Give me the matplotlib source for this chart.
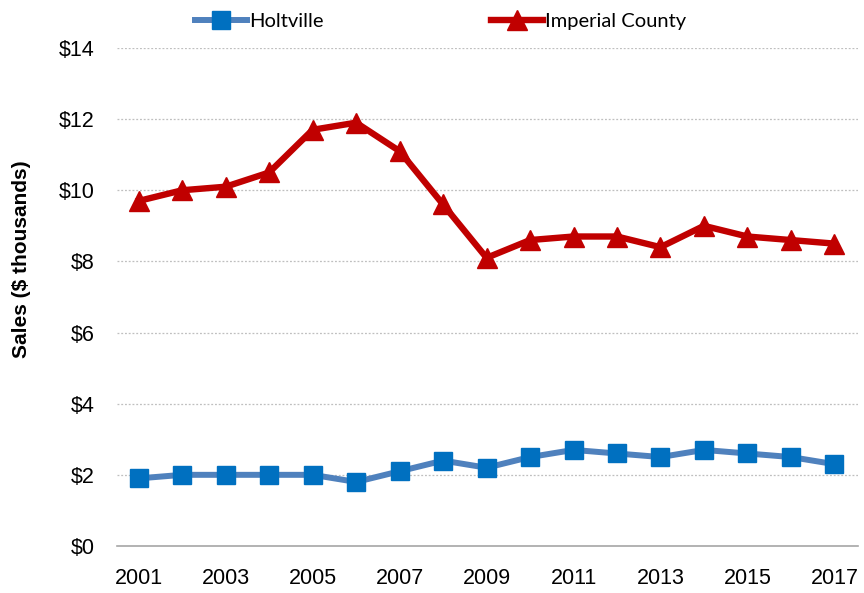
import matplotlib
matplotlib.use('Agg')
import matplotlib.pyplot as plt
from matplotlib.ticker import FuncFormatter

years = list(range(2001, 2018))
holtville = [1.9, 2.0, 2.0, 2.0, 2.0, 1.8, 2.1, 2.4, 2.2, 2.5, 2.7, 2.6, 2.5, 2.7, 2.6, 2.5, 2.3]
imperial = [9.7, 10.0, 10.1, 10.5, 11.7, 11.9, 11.1, 9.6, 8.1, 8.6, 8.7, 8.7, 8.4, 9.0, 8.7, 8.6, 8.5]

plt.rcParams['font.family'] = ['Liberation Sans', 'DejaVu Sans']

fig = plt.figure(figsize=(8.64, 5.93), dpi=100)
fig.patch.set_facecolor('white')
ax = fig.add_axes([0.1354, 0.0793, 0.858, 0.8398])

ax.plot(years, holtville, color='#4F81BD', linewidth=4.3, marker='s',
        markersize=13.5, markerfacecolor='#0070C0', markeredgecolor='#0070C0',
        label='Holtville', zorder=3)
ax.plot(years, imperial, color='#C00000', linewidth=4.6, marker='^',
        markersize=14, markerfacecolor='#C00000', markeredgecolor='#C00000',
        label='Imperial County', zorder=3)

ax.set_xlim(2000.5, 2017.55)
ax.set_ylim(0, 14)
ax.set_yticks(range(0, 15, 2))
ax.set_xticks(years[::2])
ax.yaxis.set_major_formatter(FuncFormatter(lambda v, p: f'${v:.0f}'))
ax.tick_params(axis='both', length=0, labelsize=15.5, colors='black')
ax.tick_params(axis='y', pad=16)
ax.tick_params(axis='x', pad=16)

# dotted gridlines above zero
for y in range(2, 15, 2):
    ax.axhline(y, color='#BFBFBF', linewidth=0.9, linestyle=(0, (1.5, 1.5)), zorder=1)

for side in ['top', 'right', 'left']:
    ax.spines[side].set_visible(False)
ax.spines['bottom'].set_color('#A6A6A6')
ax.spines['bottom'].set_linewidth(1.2)

ax.set_ylabel('Sales ($ thousands)', fontsize=15, fontweight='bold')
ax.yaxis.set_label_coords(-0.116, 0.575)

leg = fig.legend(loc='upper center', bbox_to_anchor=(0.51, 1.008), ncol=2,
                 frameon=False, handlelength=2.6, handletextpad=0.1,
                 columnspacing=8.3, prop={'family': 'Lato', 'size': 14.5})

fig.savefig('out.png', dpi=100, facecolor='white')
